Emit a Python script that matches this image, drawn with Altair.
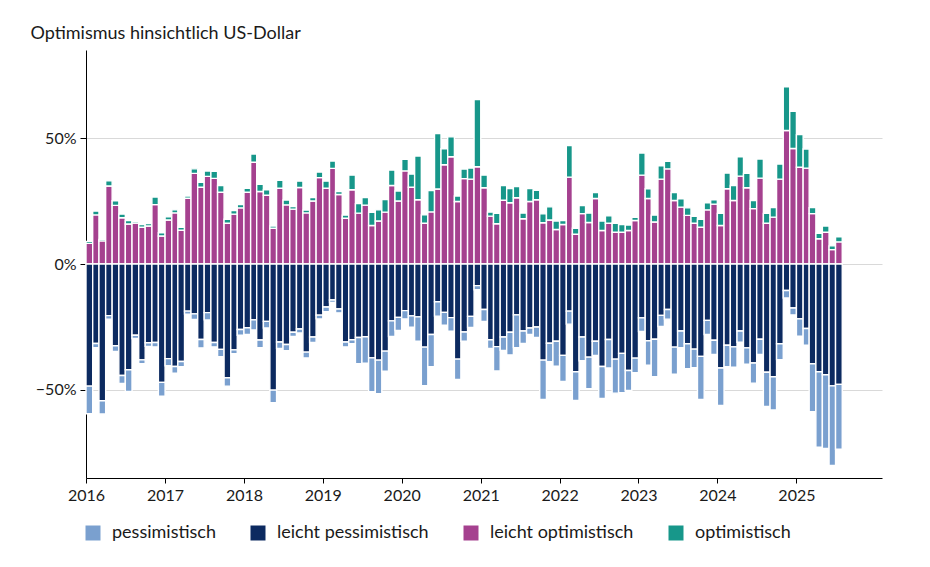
import altair as alt
import pandas as pd

# --- data (percent of respondents), monthly Jan 2016 .. Jul 2025 ---
months = pd.date_range("2016-01-01", periods=115, freq="MS")

leicht_optimistisch = [
    8.2, 19.5, 9.2, 31.0, 23.3, 18.4, 15.9, 16.3, 14.6, 15.1, 23.6, 11.1,
    17.5, 20.3, 13.4, 26.1, 36.0, 30.5, 34.8, 34.0, 28.5, 16.2, 19.8, 22.3,
    28.5, 40.4, 28.8, 27.3, 14.2, 30.1, 23.5, 21.8, 30.4, 20.3, 25.0, 34.3,
    30.1, 38.0, 27.6, 18.2, 29.5, 20.2, 23.4, 15.3, 17.1, 20.6, 31.2, 25.0,
    37.0, 30.5, 25.5, 16.2, 20.7, 29.8, 39.4, 42.6, 24.8, 33.9, 33.7, 38.6,
    30.3, 19.0, 16.0, 25.3, 24.3, 26.3, 18.0, 24.8, 25.5, 16.4, 17.5, 13.7,
    15.7, 34.5, 11.8, 20.0, 16.5, 26.0, 13.3, 16.2, 12.6, 12.6, 13.3, 17.3,
    35.3, 26.0, 16.7, 33.7, 37.8, 25.2, 22.6, 19.3, 16.2, 14.6, 21.5, 23.8,
    15.3, 29.9, 25.2, 34.9, 30.3, 22.0, 34.1, 16.2, 18.6, 33.7, 53.0, 45.9,
    38.4, 38.1, 20.0, 10.0, 12.6, 5.7, 8.8,
]
optimistisch = [
    0.8, 1.5, 0.6, 2.0, 1.8, 1.4, 1.4, 0.7, 1.1, 1.0, 3.0, 1.3,
    1.2, 1.2, 1.2, 0.9, 1.8, 2.0, 2.1, 2.8, 2.7, 1.6, 1.4, 1.3,
    1.6, 3.3, 2.9, 2.2, 0.9, 3.1, 1.9, 1.0, 2.5, 1.1, 1.4, 2.2,
    2.8, 2.9, 1.2, 1.2, 5.8, 3.8, 3.0, 5.2, 4.4, 5.0, 6.1, 4.0,
    4.6, 5.2, 17.4, 3.3, 8.5, 22.0, 6.4, 7.9, 2.2, 3.8, 4.4, 26.7,
    5.0, 1.6, 4.1, 5.9, 5.7, 4.5, 2.2, 5.2, 3.8, 3.5, 5.2, 3.4,
    1.6, 12.5, 2.4, 3.2, 3.7, 2.4, 3.8, 2.9, 3.6, 3.1, 2.2, 1.2,
    8.8, 3.9, 2.7, 5.3, 3.0, 3.2, 3.3, 3.0, 2.7, 3.2, 2.8, 1.7,
    4.8, 6.2, 6.0, 7.7, 5.7, 3.2, 7.6, 3.9, 3.8, 6.0, 17.4, 14.8,
    13.0, 7.6, 2.4, 2.2, 2.5, 1.5, 2.0,
]
leicht_pessimistisch = [
    48.5, 31.6, 54.3, 20.5, 32.5, 44.3, 42.0, 28.3, 38.1, 31.3, 31.2, 47.0,
    37.6, 40.7, 38.7, 18.7, 19.8, 30.0, 19.3, 31.2, 33.9, 45.2, 34.1, 26.0,
    25.3, 22.2, 30.2, 22.8, 50.1, 31.0, 32.0, 27.1, 25.8, 35.0, 29.0, 20.3,
    17.1, 14.3, 17.9, 31.0, 30.1, 29.2, 28.9, 37.3, 38.2, 34.6, 22.6, 21.2,
    18.5, 20.6, 21.0, 33.0, 28.0, 15.0, 19.2, 21.3, 37.8, 27.0, 20.8, 8.6,
    18.1, 30.1, 32.8, 29.0, 27.1, 20.2, 26.6, 25.4, 25.0, 38.2, 31.5, 30.7,
    36.3, 18.7, 42.8, 29.0, 37.0, 30.7, 40.7, 30.0, 37.8, 35.5, 42.3, 37.4,
    21.4, 30.5, 29.9, 20.4, 18.1, 33.0, 26.6, 31.7, 33.8, 36.7, 22.4, 30.3,
    41.3, 32.3, 32.9, 26.6, 33.3, 39.3, 29.9, 43.0, 44.8, 31.7, 10.5, 17.5,
    21.8, 25.6, 39.6, 42.8, 44.0, 48.4, 47.8,
]
pessimistisch = [
    11.0, 1.6, 5.3, 1.4, 2.2, 3.1, 8.6, 1.3, 1.5, 1.4, 1.7, 5.5,
    2.8, 2.7, 2.1, 1.2, 2.2, 3.3, 2.9, 1.7, 2.9, 3.3, 1.5, 2.3,
    2.7, 4.0, 3.0, 2.6, 5.0, 2.5, 2.4, 1.7, 1.6, 2.3, 2.2, 1.5,
    1.8, 1.0, 1.5, 1.9, 1.6, 10.4, 10.5, 13.4, 13.3, 8.0, 6.2, 5.2,
    3.3, 4.5, 9.7, 15.3, 12.8, 5.7, 5.1, 5.4, 8.1, 3.7, 4.4, 1.6,
    4.7, 3.4, 9.7, 5.3, 9.0, 13.0, 5.0, 2.6, 4.2, 15.6, 7.3, 9.9,
    10.4, 5.2, 11.4, 9.4, 12.5, 5.6, 12.7, 11.3, 13.5, 15.6, 7.9, 5.8,
    5.4, 9.7, 14.9, 4.4, 3.8, 10.8, 6.6, 9.9, 7.4, 17.1, 5.6, 5.6,
    14.9, 8.5, 8.1, 4.5, 6.5, 8.0, 6.0, 13.6, 13.2, 6.3, 3.0, 2.7,
    6.9, 6.7, 19.1, 30.0, 29.3, 31.6, 25.8,
]

categories = ["pessimistisch", "leicht pessimistisch", "leicht optimistisch", "optimistisch"]
colors = ["#7aa0cf", "#0c2a60", "#a5418f", "#17978a"]

# Build a stacked table: light categories next to zero, strong ones outside.
rows = []
for i, m in enumerate(months):
    start = m.strftime("%Y-%m-%d")
    end = (m + pd.offsets.MonthBegin(1)).strftime("%Y-%m-%d")
    lo, o = leicht_optimistisch[i], optimistisch[i]
    lp, p = leicht_pessimistisch[i], pessimistisch[i]
    rows.append({"start": start, "end": end, "Kategorie": "leicht optimistisch", "y0": 0.0, "y1": lo})
    rows.append({"start": start, "end": end, "Kategorie": "optimistisch", "y0": lo, "y1": lo + o})
    rows.append({"start": start, "end": end, "Kategorie": "leicht pessimistisch", "y0": 0.0, "y1": -lp})
    rows.append({"start": start, "end": end, "Kategorie": "pessimistisch", "y0": -lp, "y1": -lp - p})
df = pd.DataFrame(rows)

FONT = "Lato"
TXT = "#1a1a1a"

x_scale = alt.Scale(
    type="utc",
    domain=[alt.DateTime(year=2016, month=1, date=1, utc=True),
            alt.DateTime(year=2026, month=2, date=1, utc=True)],
)
year_ticks = [alt.DateTime(year=y, month=1, date=1, utc=True) for y in range(2016, 2026)]

chart = alt.Chart(df).mark_bar(stroke="white", strokeWidth=1.4).encode(
    x=alt.X("start:T", scale=x_scale,
            axis=alt.Axis(values=year_ticks, format="%Y", title=None, grid=False,
                          labelFontSize=16, labelFont=FONT, labelColor=TXT,
                          tickSize=5, tickColor="black", domainColor="black",
                          labelPadding=4, labelFlush=False)),
    x2="end:T",
    y=alt.Y("y0:Q",
            scale=alt.Scale(domain=[-85, 85], nice=False),
            axis=alt.Axis(values=[-50, 0, 50],
                          labelExpr="datum.value < 0 ? '\u2212' + abs(datum.value) + '%' : datum.value + '%'",
                          title="Optimismus hinsichtlich US-Dollar",
                          titleAngle=0, titleAlign="left", titleBaseline="alphabetic",
                          titleX=-56, titleY=-12, titleFontSize=18, titleFontWeight="normal",
                          titleFont=FONT, titleColor=TXT,
                          labelFontSize=16, labelFont=FONT, labelColor=TXT,
                          tickSize=6, tickColor="black", domainColor="black",
                          labelPadding=4, gridColor="#d9d9d9", grid=True)),
    y2="y1:Q",
    color=alt.Color("Kategorie:N",
                    scale=alt.Scale(domain=categories, range=colors),
                    sort=categories,
                    legend=alt.Legend(title=None, orient="none", direction="horizontal",
                                      legendX=-2, legendY=474,
                                      symbolType="square", symbolSize=225,
                                      symbolStrokeWidth=0, symbolOpacity=1,
                                      labelFontSize=18, labelFont=FONT, labelColor=TXT,
                                      columnPadding=33, labelOffset=10)),
).properties(
    width=796,
    height=428,
    autosize=alt.AutoSizeParams(type="none"),
    padding={"left": 78, "top": 42, "right": 40, "bottom": 81},
).configure_view(stroke=None)

chart.save("out.html", embed_options={"renderer": "svg", "actions": False})
